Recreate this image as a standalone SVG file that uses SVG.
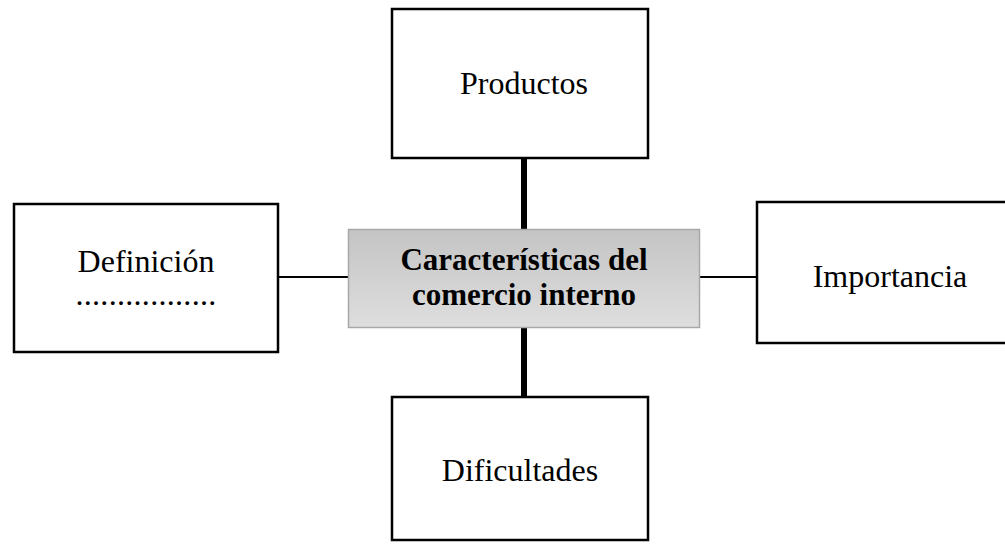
<svg xmlns="http://www.w3.org/2000/svg" width="1005" height="544" viewBox="0 0 1005 544">
<defs>
<linearGradient id="g" x1="0" y1="0" x2="0" y2="1">
<stop offset="0" stop-color="#c4c4c4"/>
<stop offset="1" stop-color="#dedede"/>
</linearGradient>
</defs>
<style>
.box{fill:#fff;stroke:#000;stroke-width:2.5}
.t{font-family:"Liberation Serif",serif;font-size:32px;fill:#000;text-anchor:middle}
.b{font-weight:bold;font-size:31px}
.thick{stroke:#000;stroke-width:6}
.thin{stroke:#000;stroke-width:2}
</style>
<rect width="1005" height="544" fill="#fff"/>
<g id="connectors">
<line class="thick" x1="524" y1="158" x2="524" y2="230"/>
<line class="thick" x1="524" y1="327" x2="524" y2="398"/>
<line class="thin" x1="278" y1="277" x2="349" y2="277"/>
<line class="thin" x1="700" y1="277" x2="757" y2="277"/>
</g>
<g id="productos">
<rect class="box" x="392" y="9" width="256" height="149"/>
<text class="t" x="524" y="94">Productos</text>
</g>
<g id="definicion">
<rect class="box" x="14" y="204" width="264" height="148"/>
<text class="t" x="146" y="272">Definición<tspan x="146" y="305" letter-spacing="0.3">.................</tspan></text>
</g>
<g id="importancia">
<rect class="box" x="757" y="202" width="260" height="141"/>
<text class="t" x="890" y="287">Importancia</text>
</g>
<g id="dificultades">
<rect class="box" x="392" y="397" width="256" height="143"/>
<text class="t" x="520" y="481">Dificultades</text>
</g>
<g id="center">
<rect x="348.5" y="229.5" width="351" height="98" fill="url(#g)" stroke="#a8a8a8" stroke-width="1.5"/>
<text class="t b" x="524" y="270">Características del<tspan x="524" y="305">comercio interno</tspan></text>
</g>
</svg>
